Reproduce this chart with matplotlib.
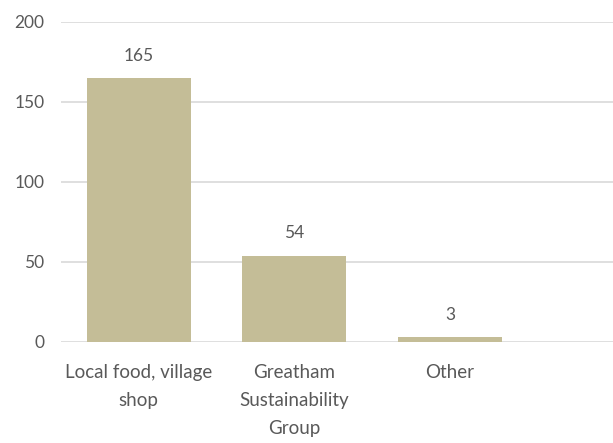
import matplotlib
matplotlib.use('Agg')
import matplotlib.pyplot as plt

categories = ['Local food, village\nshop', 'Greatham\nSustainability\nGroup', 'Other']
values = [165, 54, 3]
yticks = [0, 50, 100, 150, 200]


def main():
    plt.rcParams['font.family'] = ['Lato', 'DejaVu Sans']
    text_color = '#595959'

    fig = plt.figure(figsize=(6.13, 4.43), dpi=100)
    ax = fig.add_axes([61 / 613, 101 / 443, 1 - 61 / 613, 320 / 443])

    x = list(range(len(values)))
    ax.bar(x, values, width=0.67, color='#C4BD97', zorder=3)
    for xi, v in zip(x, values):
        ax.text(xi, v + 9, str(v), ha='center', va='bottom', fontsize=12.5, color=text_color)

    ax.set_ylim(0, 200)
    ax.set_xlim(-0.5, 3.048)
    ax.set_yticks(yticks)
    ax.set_xticks(x)
    ax.set_xticklabels(categories, fontsize=13.5, color=text_color, linespacing=1.78)
    ax.tick_params(axis='y', labelsize=12.5, labelcolor=text_color, length=0, pad=12)
    ax.tick_params(axis='x', length=0, pad=16)
    ax.yaxis.grid(True, color='#D9D9D9', linewidth=1.2, zorder=0)
    for s in ax.spines.values():
        s.set_visible(False)

    fig.savefig('out.png', dpi=100)


if __name__ == '__main__':
    main()
